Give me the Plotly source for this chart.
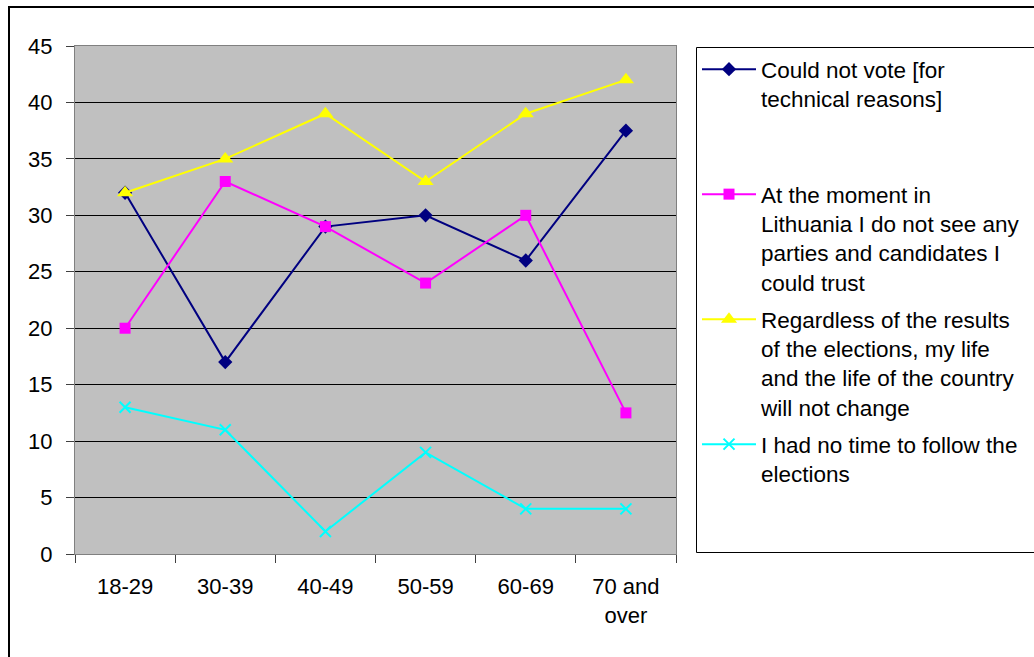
import plotly.graph_objects as go

# Age groups on the category axis
age_groups = ["18-29", "30-39", "40-49", "50-59", "60-69", "70 and<br>over"]

# Share of respondents (%) for each reason of not voting
could_not_vote = [32, 17, 29, 30, 26, 37.5]
no_trusted_parties = [20, 33, 29, 24, 30, 12.5]
life_will_not_change = [32, 35, 39, 33, 39, 42]
no_time = [13, 11, 2, 9, 4, 4]

series_names = [
    "Could not vote [for<br>technical reasons]<br> <br> ",
    "At the moment in<br>Lithuania I do not see any<br>parties and candidates I<br>could trust",
    "Regardless of the results<br>of the elections, my life<br>and the life of the country<br>will not change",
    "I had no time to follow the<br>elections",
]

FONT = "Liberation Sans, Arial, sans-serif"

W, H = 1034, 657
L, R, T, B = 75, 676, 46, 554  # plot area in pixels
pw, ph = R - L, B - T


def px_x(x):
    return (x - L) / pw


def px_y(y):
    return (B - y) / ph


fig = go.Figure()

styles = [
    (could_not_vote, "#000080", dict(symbol="diamond", size=11, color="#000080")),
    (no_trusted_parties, "#FF00FF", dict(symbol="square", size=11, color="#FF00FF")),
    (life_will_not_change, "#FFFF00", dict(symbol="triangle-up", size=14, color="#FFFF00")),
    (no_time, "#00FFFF", dict(symbol="x-thin", size=11, color="#00FFFF",
                              line=dict(color="#00FFFF", width=2))),
]

for i, ((vals, col, mk), name) in enumerate(zip(styles, series_names)):
    fig.add_trace(go.Scatter(
        x=age_groups, y=vals, name=name, mode="lines+markers",
        line=dict(color=col, width=2), marker=mk,
        legendgroup=f"g{i}",
    ))

fig.update_layout(
    width=W, height=H,
    margin=dict(l=L, r=W - R, t=T, b=H - B, pad=0, autoexpand=False),
    paper_bgcolor="white",
    plot_bgcolor="#C0C0C0",
    font=dict(family=FONT, size=22, color="black"),
    showlegend=True,
    legend=dict(
        x=px_x(697), y=px_y(48), xanchor="left", yanchor="top",
        bgcolor="rgba(0,0,0,0)", borderwidth=0,
        font=dict(family=FONT, size=22.5, color="black"),
        valign="top", traceorder="grouped", tracegroupgap=5,
        itemwidth=54, maxheight=640,
    ),
    xaxis=dict(
        type="category", showgrid=False, zeroline=False,
        showline=True, linecolor="#808080", linewidth=1, mirror=True,
        ticks="outside", tickson="boundaries", ticklen=8, tickcolor="#404040",
        tickfont=dict(family=FONT, size=22), range=[-0.5, 5.5],
        ticklabelstandoff=13,
    ),
    yaxis=dict(
        range=[0, 45], dtick=5, showgrid=True, gridcolor="black", gridwidth=1,
        zeroline=False, showline=True, linecolor="#808080", linewidth=1, mirror=True,
        ticks="outside", ticklen=8, tickcolor="#404040",
        tickfont=dict(family=FONT, size=22), ticklabelstandoff=9,
    ),
    shapes=[
        # outer chart frame
        dict(type="rect", xref="paper", yref="paper",
             x0=px_x(9), x1=px_x(W + 20), y0=px_y(H + 20), y1=px_y(7),
             line=dict(color="black", width=2), fillcolor="rgba(0,0,0,0)",
             layer="below"),
        # legend frame
        dict(type="rect", xref="paper", yref="paper",
             x0=px_x(696.5), x1=px_x(W + 20), y0=px_y(552.5), y1=px_y(47.5),
             line=dict(color="black", width=1), fillcolor="white",
             layer="below"),
    ],
)

fig.write_html("out.html")
